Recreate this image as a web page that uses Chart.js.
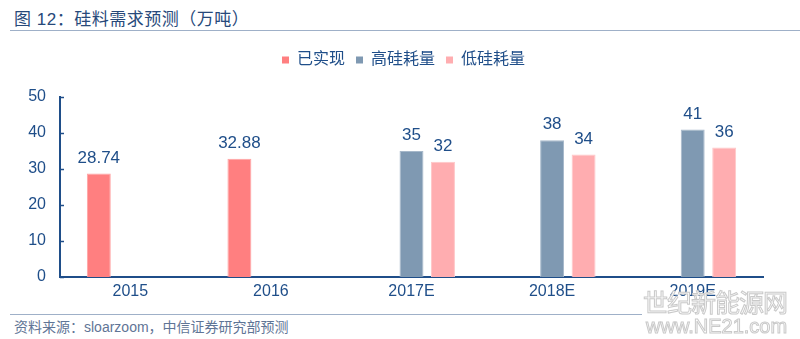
<!DOCTYPE html>
<html>
<head>
<meta charset="utf-8">
<script src="https://cdn.jsdelivr.net/npm/chart.js@4/dist/chart.umd.min.js"></script>
<style>
  html, body { margin: 0; padding: 0; background: #fff; }
  body { width: 800px; height: 339px; position: relative; overflow: hidden;
         font-family: "Liberation Sans", Arial, "Noto Sans CJK SC", sans-serif; }
  .title { position: absolute; left: 14px; top: 5px; font-size: 17px; color: #27497a;
           font-family: "Liberation Sans", "Noto Sans CJK SC", sans-serif; letter-spacing: 0.5px; }
  .rule { position: absolute; left: 10px; right: 0; height: 1px; background: #9fb0c8; }
  .source { position: absolute; left: 14px; top: 316px; font-size: 14px; color: #5f7596; }
  .mark { position: absolute; color: #fff; -webkit-text-stroke: 1px #c9c9c9;
          font-family: "Noto Sans CJK SC", sans-serif; white-space: nowrap; line-height: 1; }
  #wrap { position: absolute; left: 0; top: 36px; width: 800px; height: 270px; }
</style>
</head>
<body>
<div class="title">图 12：硅料需求预测（万吨）</div>
<div class="rule" style="top:30px"></div>
<div id="wrap"><canvas id="chart"></canvas></div>
<div class="rule" style="top:314px; right:158px"></div>
<div class="source">资料来源：sloarzoom，中信证券研究部预测</div>
<div class="mark" style="left:643px; top:289px; font-size:25px; letter-spacing:-1px;">世纪新能源网</div>
<div class="mark" style="left:646px; top:316px; font-size:20px; font-family:'Liberation Sans', sans-serif;">www.NE21.com</div>

<script>
// silicon demand, 10k tonnes
const years = ['2015', '2016', '2017E', '2018E', '2019E'];
const actual = [28.74, 32.88, null, null, null];
const highCase = [null, null, 35, 38, 41];
const lowCase = [null, null, 32, 34, 36];
const yTicks = [0, 10, 20, 30, 40, 50];

const BLUE = '#1f4e89';
const FONT = "'Liberation Sans', Arial, 'Noto Sans CJK SC', sans-serif";

// value labels above each bar
const barLabels = {
  id: 'barLabels',
  afterDatasetsDraw(chart) {
    const ctx = chart.ctx;
    ctx.save();
    ctx.font = '17px ' + FONT;
    ctx.fillStyle = BLUE;
    ctx.textAlign = 'center';
    ctx.textBaseline = 'bottom';
    chart.data.datasets.forEach((ds, i) => {
      const meta = chart.getDatasetMeta(i);
      meta.data.forEach((bar, j) => {
        const v = ds.data[j];
        if (v == null) return;
        ctx.fillText(String(v), bar.x, bar.y - 7);
      });
    });
    ctx.restore();
  }
};

// short tick marks pointing into the plot on the y axis
const innerTicks = {
  id: 'innerTicks',
  afterDraw(chart) {
    const y = chart.scales.y;
    const ctx = chart.ctx;
    ctx.save();
    ctx.strokeStyle = BLUE;
    ctx.lineWidth = 1.5;
    yTicks.forEach(t => {
      const py = Math.round(y.getPixelForValue(t)) + 0.5;
      ctx.beginPath();
      ctx.moveTo(y.right, py);
      ctx.lineTo(y.right + 4, py);
      ctx.stroke();
    });
    ctx.restore();
  }
};

// fixed legend block height, and centre the legend on the page rather than the padded box
const legendSpace = {
  id: 'legendSpace',
  beforeInit(chart) {
    const fit = chart.legend.fit;
    chart.legend.fit = function() {
      fit.bind(chart.legend)();
      this.height = 56;
    };
  },
  afterLayout(chart) {
    chart.legend.left += 22;
    chart.legend.right += 22;
  }
};

new Chart(document.getElementById('chart'), {
  type: 'bar',
  data: {
    labels: years,
    datasets: [
      { label: '已实现', data: actual, backgroundColor: '#ff7f80', borderColor: '#ffa3a3', borderWidth: 1 },
      { label: '高硅耗量', data: highCase, backgroundColor: '#7f99b2', borderColor: '#a6b8ca', borderWidth: 1 },
      { label: '低硅耗量', data: lowCase, backgroundColor: '#ffadb0', borderColor: '#ffc7c8', borderWidth: 1 }
    ]
  },
  options: {
    responsive: true,
    maintainAspectRatio: false,
    animation: false,
    categoryPercentage: 0.672,
    barPercentage: 0.76,
    layout: { padding: { top: 5, right: 37, left: 0, bottom: 0 } },
    plugins: {
      tooltip: { enabled: false },
      legend: {
        position: 'top',
        labels: {
          color: BLUE,
          font: { size: 16, family: FONT },
          boxWidth: 7,
          boxHeight: 7,
          padding: 11,
          generateLabels(chart) {
            return chart.data.datasets.map((ds, i) => ({
              text: ds.label,
              fillStyle: ds.backgroundColor,
              strokeStyle: ds.backgroundColor,
              lineWidth: 0,
              fontColor: BLUE,
              datasetIndex: i
            }));
          }
        }
      }
    },
    scales: {
      x: {
        grid: { display: false, drawTicks: false },
        border: { color: BLUE, width: 2 },
        ticks: { color: BLUE, font: { size: 16, family: FONT }, padding: 5 },
        afterFit(scale) { scale.height = 29; }
      },
      y: {
        min: 0,
        max: 50,
        grid: { display: false, drawTicks: false },
        border: { color: BLUE, width: 2 },
        ticks: { stepSize: 10, color: BLUE, font: { size: 16, family: FONT }, padding: 14 },
        afterFit(scale) { scale.width = 60; }
      }
    }
  },
  plugins: [barLabels, innerTicks, legendSpace]
});
</script>
</body>
</html>
